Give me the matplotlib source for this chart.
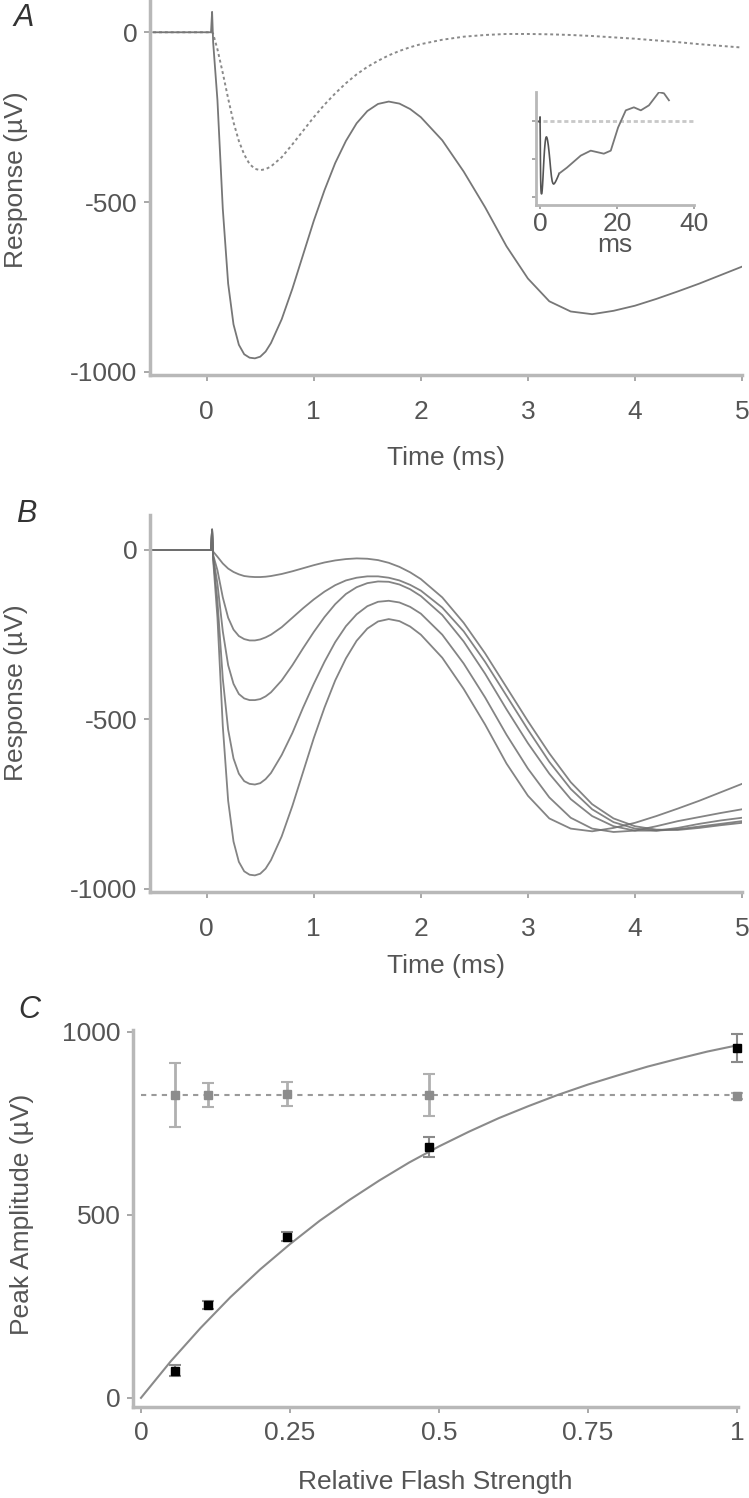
import matplotlib.pyplot as plt

plt.rcParams['font.family'] = ['Liberation Sans', 'DejaVu Sans']
plt.rcParams['font.size'] = 19
plt.rcParams['axes.unicode_minus'] = False

TXT = '#555555'
SPINE = '#b8b8b8'
TICK = '#9a9a9a'

# time base (ms) shared by the traces of panels A and B
t = [-0.5, 0.0, 0.04, 0.05, 0.06, 0.1, 0.15, 0.2, 0.25, 0.3,
     0.35, 0.4, 0.45, 0.5, 0.55, 0.6, 0.7, 0.8, 0.9, 1.0,
     1.1, 1.2, 1.3, 1.4, 1.5, 1.6, 1.7, 1.8, 1.9, 2.0,
     2.2, 2.4, 2.6, 2.8, 3.0, 3.2, 3.4, 3.6, 3.8, 4.0,
     4.2, 4.4, 4.6, 4.8, 5.0]

# responses (uV), weakest to strongest flash
resp_1 = [0, 0, 0, 60, -5, -20, -40, -55, -65, -72,
          -77, -79, -80, -80, -79, -77, -71, -63, -54, -45,
          -37, -31, -27, -25, -26, -30, -38, -50, -66, -86,
          -140, -215, -305, -405, -505, -600, -685, -750, -792, -815,
          -825, -826, -820, -812, -805]
resp_2 = [0, 0, 0, 60, -15, -60, -140, -200, -235, -254,
          -263, -267, -267, -264, -258, -250, -228, -200, -172, -146,
          -123, -104, -90, -82, -78, -78, -82, -90, -103, -120,
          -170, -240, -330, -430, -530, -625, -705, -765, -803, -822,
          -828, -824, -816, -808, -800]
resp_3 = [0, 0, 0, 60, -20, -100, -240, -340, -395, -425,
          -438, -443, -443, -440, -432, -420, -385, -340, -290, -242,
          -198, -160, -130, -110, -98, -93, -94, -102, -116, -136,
          -192, -270, -365, -470, -570, -660, -735, -785, -815, -828,
          -828, -820, -808, -798, -790]
resp_4 = [0, 0, 0, 60, -25, -150, -380, -530, -615, -660,
          -682, -690, -692, -688, -676, -658, -605, -540, -465, -395,
          -330, -272, -225, -190, -166, -153, -150, -155, -168, -188,
          -250, -335, -435, -545, -645, -730, -790, -822, -832, -828,
          -815, -800, -788, -776, -765]
resp_5 = [0, 0, 0, 60, -30, -200, -520, -740, -860, -920,
          -948, -958, -960, -955, -940, -915, -845, -755, -655, -555,
          -465, -385, -320, -268, -232, -211, -204, -210, -226, -250,
          -318, -410, -515, -630, -725, -792, -822, -830, -820, -805,
          -785, -763, -740, -715, -690]
# dotted trace of panel A
resp_dot = [0, 0, 0, 0, -5, -50, -120, -195, -265, -320,
            -360, -388, -402, -406, -403, -395, -368, -330, -290, -250,
            -213, -180, -150, -124, -102, -84, -68, -55, -44, -35,
            -22, -13, -8, -5, -5, -6, -8, -11, -15, -19,
            -24, -29, -35, -40, -45]

# inset: continuation of the strongest response on a longer time scale
inset_t = [5.0, 7.0, 10.6, 13.2, 16.6, 18.4, 20.3, 22.3, 24.4, 26.2,
           28.3, 30.9, 32.2, 33.5]
inset_v = [-690, -613, -453, -387, -427, -387, -80, 147, 187, 147,
           213, 387, 373, 280]
inset_zero_t = [-1, 40]
inset_zero_v = [0, 0]

# panel C
flash = [0.057, 0.112, 0.245, 0.483, 1.0]
amp_black = [74, 254, 440, 685, 955]
amp_black_err = [15, 10, 12, 28, 38]
amp_gray = [828, 828, 830, 828, 825]
amp_gray_err = [88, 33, 34, 58, 8]
mean_x = [0, 1]
mean_gray = [828, 828]
fit_x = [0, 0.05, 0.1, 0.15, 0.2, 0.25, 0.3, 0.35, 0.4, 0.45, 0.5,
         0.55, 0.6, 0.65, 0.7, 0.75, 0.8, 0.85, 0.9, 0.95, 1.0]
fit_y = [0, 100, 191, 275, 351, 420, 484, 541, 594, 643, 687,
         727, 764, 797, 828, 856, 881, 905, 926, 946, 963]

W, H = 749, 1498
fig = plt.figure(figsize=(W / 100, H / 100), dpi=100)


def box(l, t_, r, b):
    return [l / W, 1 - b / H, (r - l) / W, (b - t_) / H]


def style(ax, xpad, ypad=5, lw=2.5):
    for s in ['top', 'right']:
        ax.spines[s].set_visible(False)
    for s in ['left', 'bottom']:
        ax.spines[s].set_color(SPINE)
        ax.spines[s].set_linewidth(lw)
    ax.tick_params(length=4, width=1.2, color=TICK, labelcolor=TXT, labelsize=19)
    ax.tick_params(axis='x', pad=xpad)
    ax.tick_params(axis='y', pad=ypad)


def labels(ax, xl, yl, xy, yx, yy):
    ax.set_xlabel(xl, color=TXT, fontsize=19)
    ax.set_ylabel(yl, color=TXT, fontsize=19)
    ax.xaxis.set_label_coords(0.5, xy)
    ax.xaxis.label.set_va('center')
    ax.yaxis.set_label_coords(yx, yy)
    ax.yaxis.label.set_va('center')


# ---- A ----
axA = fig.add_axes(box(150, 0, 742, 375))
axA.plot(t, resp_dot, color='#8a8a8a', lw=1.4, ls=(0, (1.5, 1.5)))
axA.plot(t, resp_5, color='#777777', lw=1.3)
axA.set_xlim(-0.53, 5.0)
axA.set_ylim(-1009, 95)
axA.set_xticks([0, 1, 2, 3, 4, 5])
axA.set_yticks([-1000, -500, 0])
style(axA, xpad=14)
labels(axA, 'Time (ms)', 'Response (µV)', -(458 - 375) / 375, -(150 - 16) / 592, 0.52)

# inset
axI = fig.add_axes(box(536, 92, 694, 205))
axI.plot(inset_zero_t, inset_zero_v, color='#c8c8c8', lw=2, ls=(0, (1.5, 1)))
axI.plot(t, resp_5, color='#555555', lw=1.2)
axI.plot(inset_t, inset_v, color='#777777', lw=1.3)
axI.set_xlim(-1, 40)
axI.set_ylim(-1107, 390)
axI.set_xticks([0, 20, 40])
axI.set_yticks([-1000, -500, 0])
axI.set_yticklabels([])
style(axI, xpad=2, lw=2)
axI.tick_params(length=3)
axI.set_xlabel('ms', color=TXT, fontsize=19, labelpad=-2)

# ---- B ----
axB = fig.add_axes(box(150, 515, 742, 892))
for r in [resp_1, resp_2, resp_3, resp_4, resp_5]:
    axB.plot(t, r, color='#6e6e6e', lw=1.3, alpha=0.85)
axB.set_xlim(-0.53, 5.0)
axB.set_ylim(-1009, 103)
axB.set_xticks([0, 1, 2, 3, 4, 5])
axB.set_yticks([-1000, -500, 0])
style(axB, xpad=14)
labels(axB, 'Time (ms)', 'Response (µV)', -(966 - 892) / 377, -(150 - 16) / 592, 0.528)

# ---- C ----
axC = fig.add_axes(box(133, 1030, 738, 1407))
axC.plot(mean_x, mean_gray, color='#9a9a9a', lw=1.5, ls=(0, (2.5, 2.5)))
axC.plot(fit_x, fit_y, color='#8a8a8a', lw=1.5)
axC.errorbar(flash, amp_gray, yerr=amp_gray_err, fmt='s', color='#8c8c8c',
             ecolor='#b0b0b0', elinewidth=2, capsize=4, capthick=1.5,
             markersize=6, clip_on=False, zorder=3)
axC.errorbar(flash, amp_black, yerr=amp_black_err, fmt='s', color='black',
             ecolor='#8a8a8a', elinewidth=1.5, capsize=4, capthick=1.5,
             markersize=6, clip_on=False, zorder=4)
axC.set_xlim(-0.0134, 1.0017)
axC.set_ylim(-25, 1005)
axC.set_xticks([0, 0.25, 0.5, 0.75, 1])
axC.set_xticklabels(['0', '0.25', '0.5', '0.75', '1'])
axC.set_yticks([0, 500, 1000])
style(axC, xpad=6)
labels(axC, 'Relative Flash Strength', 'Peak Amplitude (µV)',
       -(1482 - 1407) / 377, -(133 - 22) / 605, 0.512)

# panel letters
for letter, x, y in [('A', 24, 18), ('B', 26, 514), ('C', 29, 1010)]:
    fig.text(x / W, 1 - y / H, letter, fontsize=22, style='italic',
             color='#333333', ha='center', va='center')

fig.savefig('out.png', dpi=100)
